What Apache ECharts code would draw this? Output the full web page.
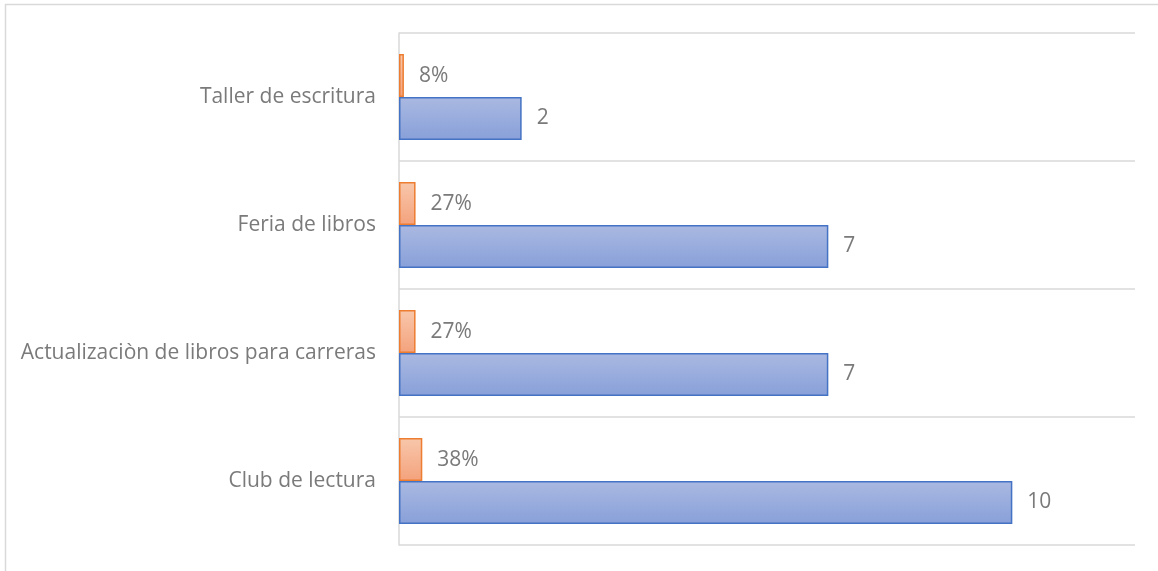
<!DOCTYPE html>
<html>
<head>
<meta charset="utf-8">
<script src="https://cdn.jsdelivr.net/npm/echarts@6/dist/echarts.min.js"></script>
<style>
  html, body { margin: 0; padding: 0; background: #fff; }
  #chart { width: 1158px; height: 571px; }
</style>
</head>
<body>
<div id="chart"></div>
<script>
// categories, bottom to top as the y axis draws them
const categories = [
  "Club de lectura",
  "Actualizaciòn de libros para carreras",
  "Feria de libros",
  "Taller de escritura"
];
const counts = [10, 7, 7, 2];
const shares = [0.38, 0.27, 0.27, 0.08];

const myChart = echarts.init(document.getElementById("chart"));

const labelStyle = {
  show: true,
  position: "right",
  distance: 15,
  color: "#7a7a7a",
  fontFamily: "Open Sans",
  fontSize: 21,
  padding: [4, 0, 0, 0]
};

const option = {
  animation: false,
  grid: { left: 399, right: 23, top: 33, bottom: 26 },
  graphic: [
    {
      type: "rect",
      shape: { x: 5.5, y: 4.5, width: 1200, height: 700 },
      style: { fill: "none", stroke: "#d9d9d9", lineWidth: 1.5 },
      silent: true
    }
  ],
  xAxis: {
    type: "value",
    min: 0,
    max: 12,
    show: false
  },
  yAxis: {
    type: "category",
    data: categories,
    axisLine: { show: true, lineStyle: { color: "#d9d9d9", width: 1.5 } },
    axisTick: { show: false },
    splitLine: { show: true, lineStyle: { color: "#d9d9d9", width: 1.5 } },
    axisLabel: {
      margin: 23,
      color: "#7a7a7a",
      fontFamily: "Open Sans",
      fontSize: 21
    }
  },
  series: [
    {
      name: "Porcentaje",
      type: "bar",
      data: shares,
      barGap: 0,
      barCategoryGap: "33%",
      itemStyle: {
        color: new echarts.graphic.LinearGradient(0, 0, 0, 1, [
          { offset: 0, color: "#f8c7ab" },
          { offset: 1, color: "#f4a27c" }
        ]),
        borderColor: "#ed7d31",
        borderWidth: 1.5
      },
      label: Object.assign({}, labelStyle, {
        formatter: p => Math.round(p.value * 100) + "%"
      })
    },
    {
      name: "Cantidad",
      type: "bar",
      data: counts,
      barGap: 0,
      barCategoryGap: "33%",
      itemStyle: {
        color: new echarts.graphic.LinearGradient(0, 0, 0, 1, [
          { offset: 0, color: "#aab9e1" },
          { offset: 1, color: "#88a0d9" }
        ]),
        borderColor: "#4472c4",
        borderWidth: 1.5
      },
      label: labelStyle
    }
  ]
};

myChart.setOption(option);
</script>
</body>
</html>
